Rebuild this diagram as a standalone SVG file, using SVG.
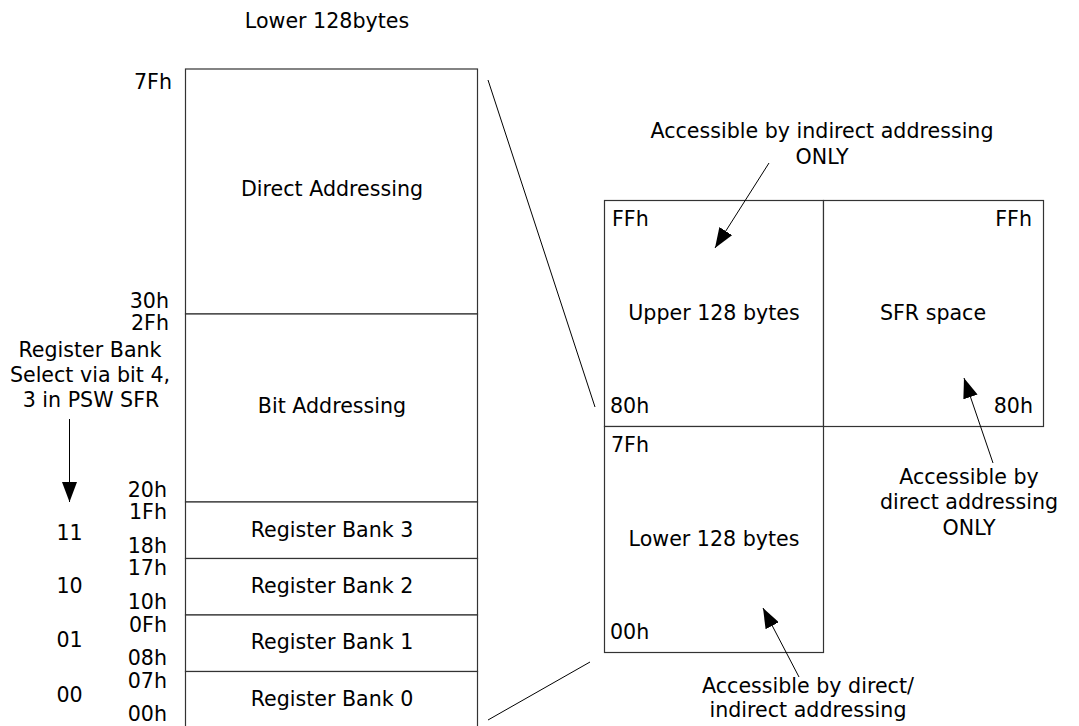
<svg xmlns="http://www.w3.org/2000/svg" width="1079" height="726" viewBox="0 0 1079 726">
<style>
text{font-family:"DejaVu Sans","Verdana",sans-serif;font-size:20.6px;fill:#000}
.m{text-anchor:middle}
.e{text-anchor:end}
.box{fill:#fff;stroke:#333;stroke-width:1.2}
.ln{stroke:#000;stroke-width:1;fill:none}
</style>
<defs>
<marker id="ah2" viewBox="0 0 10 10" refX="10" refY="5" markerWidth="20" markerHeight="15" markerUnits="userSpaceOnUse" orient="auto" preserveAspectRatio="none">
<path d="M0,0 L10,5 L0,10 z" fill="#000"/>
</marker>
</defs>
<rect width="1079" height="726" fill="#fff"/>
<text class="m" x="327" y="28">Lower 128bytes</text>

<g id="direct">
<rect class="box" x="185.5" y="69" width="292" height="245"/>
<text class="m" x="332" y="196">Direct Addressing</text>
</g>
<g id="bit">
<rect class="box" x="185.5" y="314" width="292" height="188"/>
<text class="m" x="332" y="413">Bit Addressing</text>
</g>
<g id="bank3">
<rect class="box" x="185.5" y="502" width="292" height="56.5"/>
<text class="m" x="332" y="537">Register Bank 3</text>
</g>
<g id="bank2">
<rect class="box" x="185.5" y="558.5" width="292" height="56.5"/>
<text class="m" x="332" y="593">Register Bank 2</text>
</g>
<g id="bank1">
<rect class="box" x="185.5" y="615" width="292" height="56.5"/>
<text class="m" x="332" y="649">Register Bank 1</text>
</g>
<g id="bank0">
<rect class="box" x="185.5" y="671.5" width="292" height="57"/>
<text class="m" x="332" y="706">Register Bank 0</text>
</g>

<g id="addr-left">
<text class="e" x="172" y="89">7Fh</text>
<text class="e" x="169" y="308">30h</text>
<text class="e" x="169" y="330">2Fh</text>
<text class="e" x="167" y="497">20h</text>
<text class="e" x="167" y="519">1Fh</text>
<text class="e" x="167" y="553">18h</text>
<text class="e" x="167" y="575">17h</text>
<text class="e" x="167" y="609">10h</text>
<text class="e" x="167" y="632">0Fh</text>
<text class="e" x="167" y="665">08h</text>
<text class="e" x="167" y="688">07h</text>
<text class="e" x="167" y="721">00h</text>
</g>

<g id="bank-select">
<text class="m" x="90" y="357">Register Bank</text>
<text class="m" x="90" y="382">Select via bit 4,</text>
<text class="m" x="91" y="407">3 in PSW SFR</text>
<text class="m" x="69.5" y="540">11</text>
<text class="m" x="69.5" y="593">10</text>
<text class="m" x="69.5" y="647">01</text>
<text class="m" x="69.5" y="702">00</text>
</g>

<g id="upper">
<rect class="box" x="604.5" y="200.5" width="219" height="226"/>
<text x="612" y="226">FFh</text>
<text x="610" y="413">80h</text>
<text class="m" x="714" y="320">Upper 128 bytes</text>
</g>
<g id="sfr">
<rect class="box" x="823.5" y="200.5" width="220" height="226"/>
<text class="e" x="1032" y="226">FFh</text>
<text class="e" x="1033" y="413">80h</text>
<text class="m" x="933" y="320">SFR space</text>
</g>
<g id="lower">
<rect class="box" x="604.5" y="426.5" width="219" height="226"/>
<text x="611" y="452">7Fh</text>
<text x="610" y="639">00h</text>
<text class="m" x="714" y="546">Lower 128 bytes</text>
</g>

<g id="notes">
<text class="m" x="822" y="138">Accessible by indirect addressing</text>
<text class="m" x="822" y="164">ONLY</text>
<text class="m" x="969" y="484">Accessible by</text>
<text class="m" x="969" y="509">direct addressing</text>
<text class="m" x="969" y="535">ONLY</text>
<text class="m" x="808" y="693">Accessible by direct/</text>
<text class="m" x="808" y="717">indirect addressing</text>
</g>

<g id="connectors">
<line class="ln" x1="488" y1="80" x2="595" y2="407"/>
<line class="ln" x1="590" y1="662" x2="488" y2="720"/>
<line class="ln" x1="69.5" y1="419" x2="69.5" y2="502" marker-end="url(#ah2)"/>
<line class="ln" x1="769" y1="163" x2="715" y2="248" marker-end="url(#ah2)"/>
<line class="ln" x1="993" y1="463" x2="964" y2="378" marker-end="url(#ah2)"/>
<line class="ln" x1="799" y1="677" x2="763" y2="608" marker-end="url(#ah2)"/>
</g>
</svg>
